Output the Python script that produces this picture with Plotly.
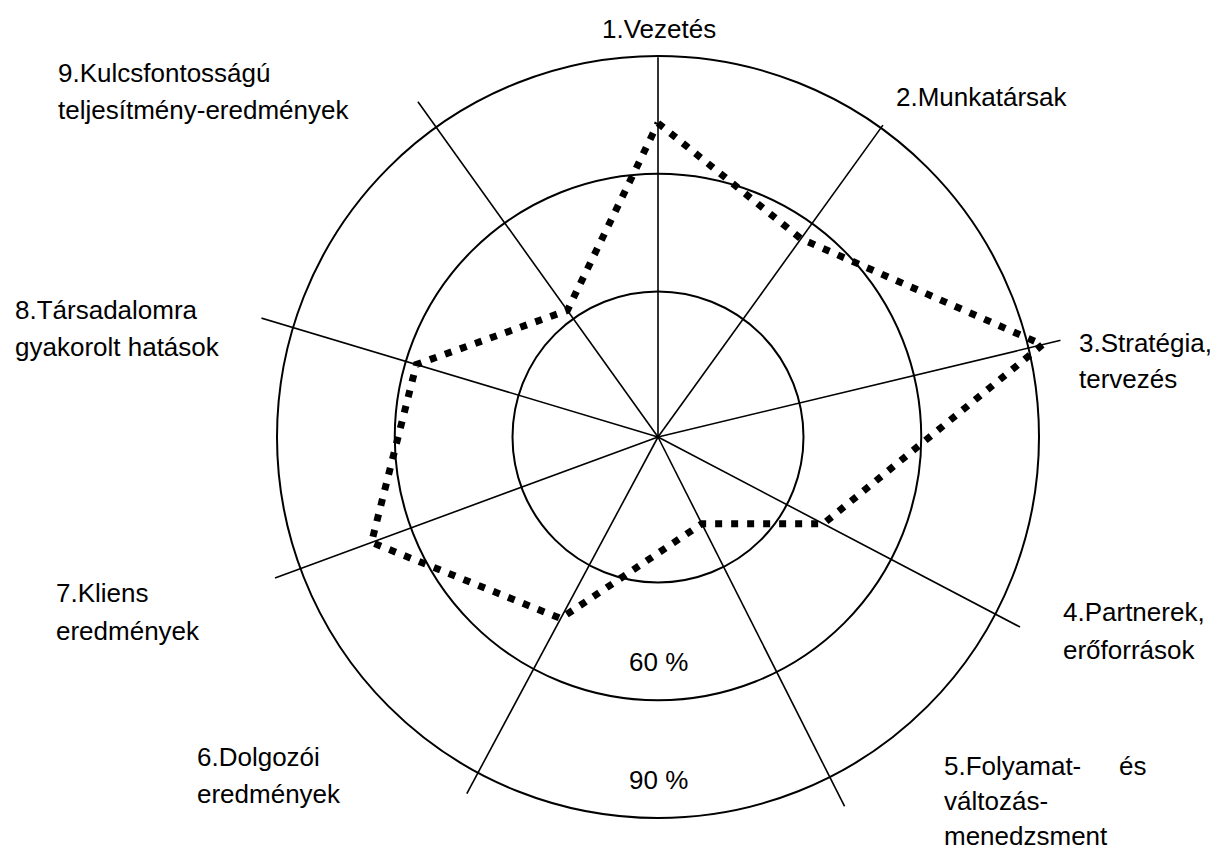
import plotly.graph_objects as go

# ---------------- data ----------------
categories = ["1.Vezetés", "2.Munkatársak", "3.Stratégia, tervezés",
              "4.Partnerek, erőforrások", "5.Folyamat- és változás-menedzsment",
              "6.Dolgozói eredmények", "7.Kliens eredmények",
              "8.Társadalomra gyakorolt hatások",
              "9.Kulcsfontosságú teljesítmény-eredmények"]
axis_angles = [90, 54.2, 13.5, -27.7, -63.2, -118.2, -159.8, 163.3, 125.6]
spoke_lengths = [89.7, 90.9, 99.0, 97.1, 101.8, 96.0, 96.9, 101.3, 98.0]
values = [72.9, 55.2, 93.7, 40.5, 17.7, 45.4, 70.7, 57.2, 32.6]
ring_values = [30, 60, 90]
ring_labels = ["60 %", "90 %"]

# ---------------- layout geometry ----------------
PAGE_OFF = 8               # browser body margin
W, H = 1220 - PAGE_OFF, 851 - PAGE_OFF
CX, CY = 658 - PAGE_OFF, 437 - PAGE_OFF   # centre of the radar (figure pixels)
RPX = 414                  # pixel radius of the polar domain
PX_PER_UNIT = 3.925
PX_OFFSET = 27.75          # pixel radius of value 0
R0 = -PX_OFFSET / PX_PER_UNIT
R1 = (RPX - PX_OFFSET) / PX_PER_UNIT

FONT = dict(family="Liberation Sans, Arial, sans-serif", size=26, color="black")

fig = go.Figure()

# spokes
sr, st = [], []
for a, L in zip(axis_angles, spoke_lengths):
    sr += [R0, L, None]
    st += [a, a, None]
fig.add_trace(go.Scatterpolar(r=sr, theta=st, mode="lines",
                              line=dict(color="black", width=1.6),
                              hoverinfo="skip", showlegend=False))

# data polygon
fig.add_trace(go.Scatterpolar(r=values + values[:1], theta=axis_angles + axis_angles[:1],
                              mode="lines", name="Értékelés",
                              line=dict(color="black", width=7, dash="7px,9px"),
                              text=categories + categories[:1],
                              showlegend=False))

fig.update_layout(
    width=W, height=H,
    margin=dict(l=0, r=0, t=0, b=0),
    paper_bgcolor="white", plot_bgcolor="white",
    polar=dict(
        domain=dict(x=[(CX - RPX) / W, (CX + RPX) / W],
                    y=[(H - CY - RPX) / H, (H - CY + RPX) / H]),
        bgcolor="white",
        radialaxis=dict(range=[R0, R1], tickvals=ring_values, showticklabels=False,
                        ticks="", showline=False, gridcolor="black", gridwidth=1.8),
        angularaxis=dict(rotation=0, direction="counterclockwise", thetaunit="degrees",
                         showgrid=False, showline=False, showticklabels=False, ticks=""),
    ),
)

# category labels (one annotation per text line), page pixel positions
label_lines = [
    ("1.Vezetés", 659, 29, "center"),
    ("9.Kulcsfontosságú", 56, 73, "left"),
    ("teljesítmény-eredmények", 56, 110, "left"),
    ("2.Munkatársak", 894, 97, "left"),
    ("3.Stratégia,", 1077, 343, "left"),
    ("tervezés", 1077, 379, "left"),
    ("8.Társadalomra", 13, 310, "left"),
    ("gyakorolt hatások", 13, 347, "left"),
    ("7.Kliens", 54, 593, "left"),
    ("eredmények", 54, 631, "left"),
    ("4.Partnerek,", 1061, 612, "left"),
    ("erőforrások", 1061, 650, "left"),
    ("6.Dolgozói", 195, 757, "left"),
    ("eredmények", 195, 794, "left"),
    ("5.Folyamat-", 942, 766, "left"),
    ("és", 1117, 766, "left"),
    ("változás-", 942, 801, "left"),
    ("menedzsment", 942, 836, "left"),
]
for txt, x, y, anc in label_lines:
    fig.add_annotation(text=txt, x=(x - PAGE_OFF) / W, y=1 - (y - PAGE_OFF) / H,
                       xref="paper", yref="paper", xanchor=anc, yanchor="middle",
                       showarrow=False, font=FONT)

for txt, y in zip(ring_labels, [662, 780]):
    fig.add_annotation(text=txt, x=CX / W, y=1 - (y - PAGE_OFF) / H,
                       xref="paper", yref="paper", xanchor="center", yanchor="middle",
                       showarrow=False, font=FONT)

fig.write_html("out.html")
